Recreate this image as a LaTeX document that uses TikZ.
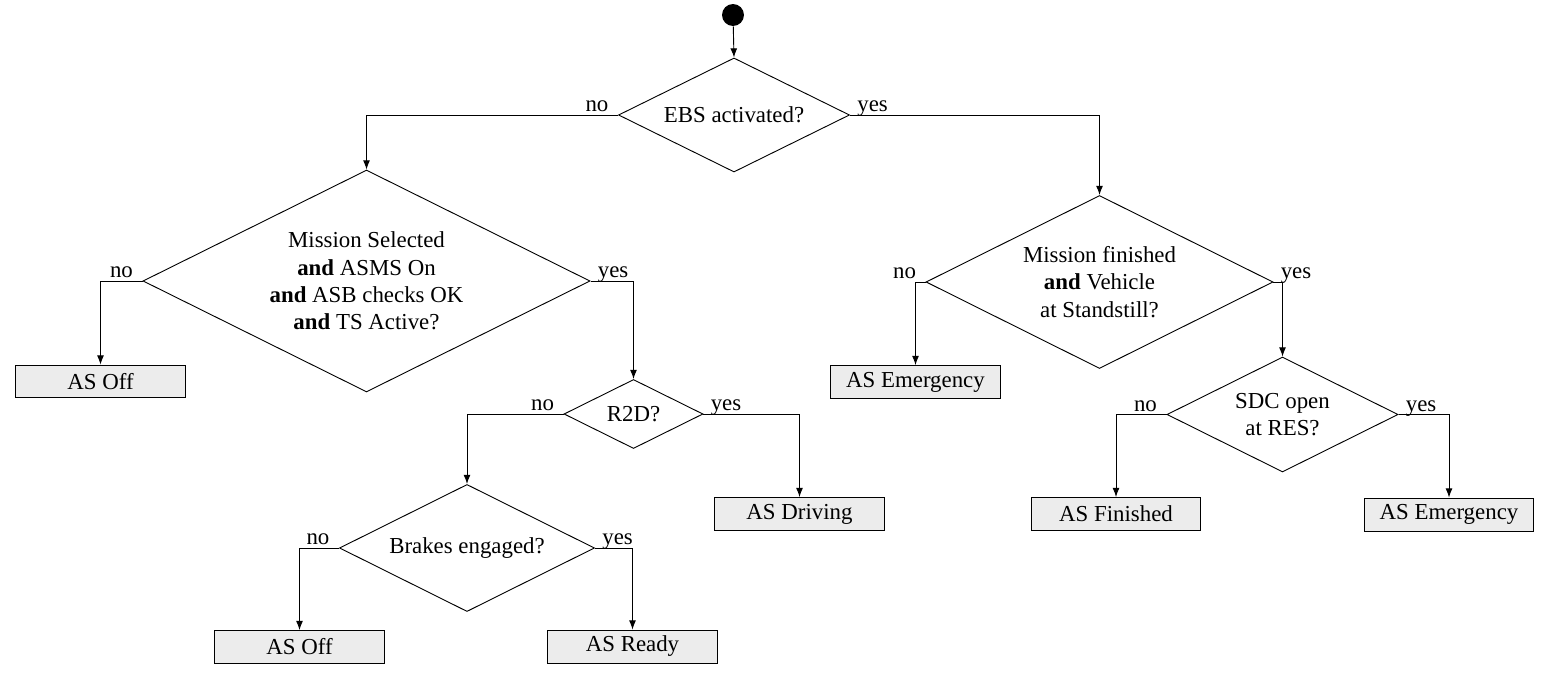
\documentclass[tikz,border=0pt]{standalone}
\usepackage{fontspec}
\setmainfont{Liberation Serif}
\usetikzlibrary{shapes.geometric,arrows.meta}

\begin{document}
\begin{tikzpicture}[x=0.4375pt,y=-0.4375pt,
		decision/.style={draw,diamond,aspect=2,inner sep=0pt,align=center},
		state/.style={draw,fill=gray!15,minimum width=74pt,minimum height=14.4pt,inner sep=0pt},
		flow/.style={-{Latex[length=4pt,width=3pt]}},
		nolab/.style={anchor=base east,inner sep=0pt,xshift=-4pt,yshift=1.5pt},
		yeslab/.style={anchor=base west,inner sep=0pt,xshift=3pt,yshift=1.5pt}]
		\useasboundingbox (0,0) rectangle (1550,679);
		\node[circle,fill=black,minimum size=9.6pt,inner sep=0pt] (start) at (733,15) {};
		\node[decision,minimum width=101.1pt,minimum height=49.9pt] (ebs) at (734,115) {EBS activated?};
		\node[decision,minimum width=195.6pt,minimum height=97.1pt] (sel) at (366.5,281) {Mission Selected\\\textbf{and} ASMS On\\\textbf{and} ASB checks OK\\\textbf{and} TS Active?};
		\node[decision,minimum width=151.8pt,minimum height=75.7pt] (fin) at (1099.5,282) {Mission finished\\\textbf{and} Vehicle\\at Standstill?};
		\node[decision,minimum width=60.8pt,minimum height=30.2pt] (r2d) at (633.5,414) {R2D?};
		\node[decision,minimum width=111.6pt,minimum height=55.6pt] (brk) at (467,548) {Brakes engaged?};
		\node[decision,minimum width=101.1pt,minimum height=50.3pt] (sdc) at (1282.5,414.5) {SDC open\\at RES?};
		\node[state] (off1) at (100.5,381.5) {AS Off};
		\node[state] (emg1) at (915.5,382) {AS Emergency};
		\node[state] (drv) at (799.5,514) {AS Driving};
		\node[state] (fnd) at (1116,514) {AS Finished};
		\node[state] (emg2) at (1449,514.5) {AS Emergency};
		\node[state] (off2) at (299.5,647) {AS Off};
		\node[state] (rdy) at (632.5,646.5) {AS Ready};
		\draw[flow] (start) -- (ebs.north);
		\draw[flow] (ebs.west) node[nolab] (ebsno) {no} -| (sel.north);
		\draw[flow] (ebs.east) node[yeslab] (ebsyes) {yes} -| (fin.north);
		\draw[flow] (sel.west) node[nolab] (selno) {no} -| (off1.north);
		\draw[flow] (sel.east) node[yeslab] (selyes) {yes} -| (r2d.north);
		\draw[flow] (r2d.west) node[nolab] (r2dno) {no} -| (brk.north);
		\draw[flow] (r2d.east) node[yeslab] (r2dyes) {yes} -| (drv.north);
		\draw[flow] (brk.west) node[nolab] (brkno) {no} -| (off2.north);
		\draw[flow] (brk.east) node[yeslab] (brkyes) {yes} -| (rdy.north);
		\draw[flow] (fin.west) node[nolab] (finno) {no} -| (emg1.north);
		\draw[flow] (fin.east) node[yeslab] (finyes) {yes} -| (sdc.north);
		\draw[flow] (sdc.west) node[nolab] (sdcno) {no} -| (fnd.north);
		\draw[flow] (sdc.east) node[yeslab] (sdcyes) {yes} -| (emg2.north);
\end{tikzpicture}
\end{document}
